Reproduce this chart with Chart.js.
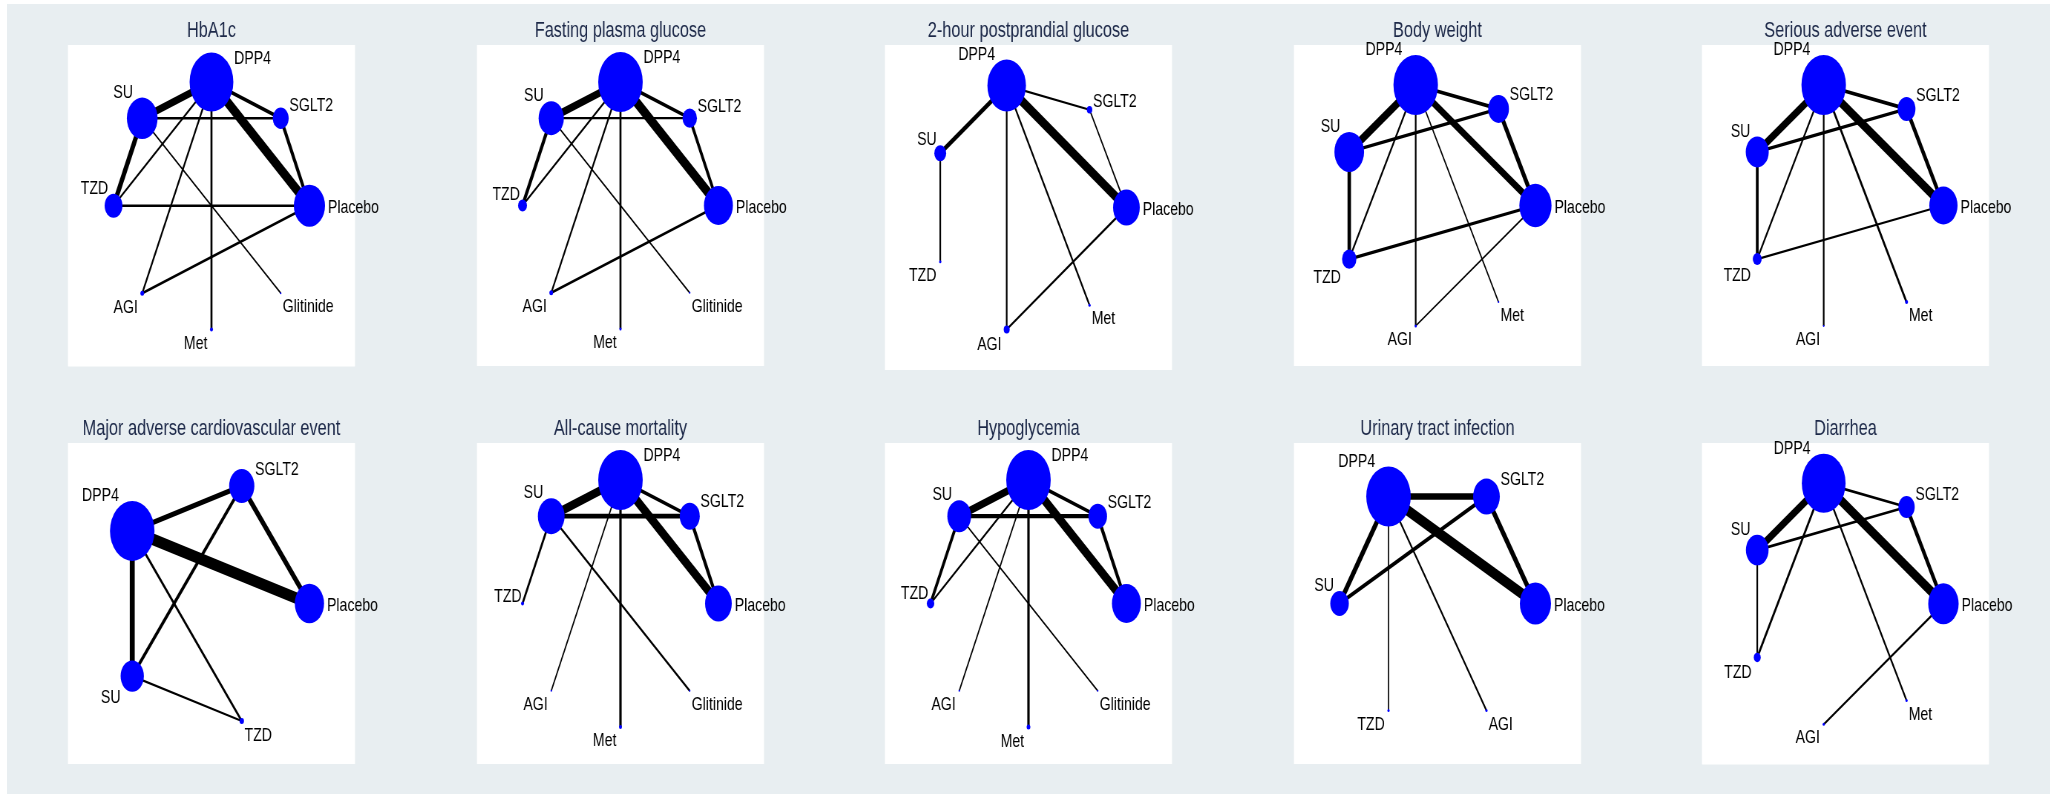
<!DOCTYPE html>
<html>
<head>
<meta charset="utf-8">
<script src="https://cdn.jsdelivr.net/npm/chart.js@4.4.1/dist/chart.umd.min.js"></script>
<style>
  html, body { margin: 0; padding: 0; background: #ffffff; }
  #page { position: relative; width: 2058px; height: 794px; overflow: hidden; }
  #bg { position: absolute; left: 7px; top: 4px; width: 2043px; height: 790px; background: #e8eef1; }
  .panel { position: absolute; transform-origin: 0 0; }
</style>
</head>
<body>
<div id="page"><div id="bg"></div></div>
<script>
// Treatment network plots. Nodes are listed counter-clockwise starting at 3 o'clock;
// node size ~ patients, edge weight ~ direct comparisons.

const titles = [
  'HbA1c', 'Fasting plasma glucose', '2-hour postprandial glucose', 'Body weight', 'Serious adverse event',
  'Major adverse cardiovascular event', 'All-cause mortality', 'Hypoglycemia', 'Urinary tract infection', 'Diarrhea'
];

// HbA1c
const hba1cNodes = ['Placebo', 'SGLT2', 'DPP4', 'SU', 'TZD', 'AGI', 'Met', 'Glitinide'];
const hba1cSizes = [21, 10.7, 29.5, 20.7, 12, 2.5, 2, 1];
const hba1cEdges = [
  ['DPP4', 'Placebo', 9.5], ['DPP4', 'SU', 7], ['DPP4', 'SGLT2', 3], ['SGLT2', 'Placebo', 3.5],
  ['SU', 'SGLT2', 2], ['SU', 'TZD', 5], ['TZD', 'Placebo', 2], ['DPP4', 'TZD', 1.5],
  ['DPP4', 'AGI', 1.5], ['DPP4', 'Met', 2], ['AGI', 'Placebo', 2], ['SU', 'Glitinide', 1]
];

// Fasting plasma glucose
const fpgNodes = ['Placebo', 'SGLT2', 'DPP4', 'SU', 'TZD', 'AGI', 'Met', 'Glitinide'];
const fpgSizes = [19.5, 9.7, 30, 17, 6, 2.5, 1.5, 1];
const fpgEdges = [
  ['DPP4', 'Placebo', 9.5], ['DPP4', 'SU', 7], ['DPP4', 'SGLT2', 3], ['SGLT2', 'Placebo', 3],
  ['SU', 'SGLT2', 1.5], ['SU', 'TZD', 3.5], ['DPP4', 'TZD', 1.5], ['DPP4', 'AGI', 1.5],
  ['DPP4', 'Met', 2], ['AGI', 'Placebo', 2], ['SU', 'Glitinide', 1]
];

// 2-hour postprandial glucose
const ppgNodes = ['Placebo', 'SGLT2', 'DPP4', 'SU', 'TZD', 'AGI', 'Met'];
const ppgSizes = [18, 3.7, 26, 8, 1.5, 4, 1.5];
const ppgEdges = [
  ['DPP4', 'Placebo', 9], ['DPP4', 'SU', 4], ['DPP4', 'SGLT2', 1.5], ['SGLT2', 'Placebo', 1],
  ['SU', 'TZD', 1.5], ['DPP4', 'AGI', 1.5], ['DPP4', 'Met', 1.5], ['AGI', 'Placebo', 1.5]
];

// Body weight
const bwNodes = ['Placebo', 'SGLT2', 'DPP4', 'SU', 'TZD', 'AGI', 'Met'];
const bwSizes = [21.7, 14, 30, 20, 9.7, 1.5, 1];
const bwEdges = [
  ['DPP4', 'Placebo', 6.5], ['DPP4', 'SU', 7.5], ['DPP4', 'SGLT2', 3], ['SGLT2', 'Placebo', 4.5],
  ['SU', 'SGLT2', 2.5], ['SU', 'TZD', 4], ['TZD', 'Placebo', 2.5], ['DPP4', 'TZD', 1.5],
  ['DPP4', 'AGI', 1.5], ['DPP4', 'Met', 1], ['AGI', 'Placebo', 1]
];

// Serious adverse event
const saeNodes = ['Placebo', 'SGLT2', 'DPP4', 'SU', 'TZD', 'AGI', 'Met'];
const saeSizes = [19, 12, 30, 15.5, 6, 1, 2];
const saeEdges = [
  ['DPP4', 'Placebo', 8.5], ['DPP4', 'SU', 7], ['DPP4', 'SGLT2', 3], ['SGLT2', 'Placebo', 4],
  ['SU', 'SGLT2', 2.5], ['SU', 'TZD', 3], ['TZD', 'Placebo', 1.5], ['DPP4', 'TZD', 1.5],
  ['DPP4', 'AGI', 1.5], ['DPP4', 'Met', 2]
];

// Major adverse cardiovascular event
const maceNodes = ['Placebo', 'SGLT2', 'DPP4', 'SU', 'TZD'];
const maceSizes = [19.7, 17, 30, 15.7, 3];
const maceEdges = [
  ['DPP4', 'Placebo', 11], ['DPP4', 'SGLT2', 4.5], ['SGLT2', 'Placebo', 5], ['DPP4', 'SU', 6],
  ['SU', 'SGLT2', 3], ['DPP4', 'TZD', 2], ['SU', 'TZD', 1.5]
];

// All-cause mortality
const acmNodes = ['Placebo', 'SGLT2', 'DPP4', 'SU', 'TZD', 'AGI', 'Met', 'Glitinide'];
const acmSizes = [18, 13.5, 30, 18, 2, 1, 2, 1];
const acmEdges = [
  ['DPP4', 'Placebo', 9], ['DPP4', 'SU', 8], ['DPP4', 'SGLT2', 3], ['SGLT2', 'Placebo', 3.5],
  ['SU', 'SGLT2', 4], ['SU', 'TZD', 2], ['DPP4', 'AGI', 1], ['DPP4', 'Met', 2.5],
  ['SU', 'Glitinide', 1.5]
];

// Hypoglycemia
const hypoNodes = ['Placebo', 'SGLT2', 'DPP4', 'SU', 'TZD', 'AGI', 'Met', 'Glitinide'];
const hypoSizes = [19.5, 12.5, 30, 16, 5, 1, 2.5, 1];
const hypoEdges = [
  ['DPP4', 'Placebo', 9], ['DPP4', 'SU', 7], ['DPP4', 'SGLT2', 3], ['SGLT2', 'Placebo', 3.5],
  ['SU', 'SGLT2', 3.5], ['SU', 'TZD', 3], ['DPP4', 'TZD', 1.5], ['DPP4', 'AGI', 1],
  ['DPP4', 'Met', 2.5], ['SU', 'Glitinide', 1]
];

// Urinary tract infection
const utiNodes = ['Placebo', 'SGLT2', 'DPP4', 'SU', 'TZD', 'AGI'];
const utiSizes = [21, 18, 30, 12.5, 1.5, 1.5];
const utiEdges = [
  ['DPP4', 'Placebo', 10], ['DPP4', 'SGLT2', 6], ['SGLT2', 'Placebo', 5], ['DPP4', 'SU', 5],
  ['SU', 'SGLT2', 3.5], ['DPP4', 'TZD', 1], ['DPP4', 'AGI', 1.5]
];

// Diarrhea
const diaNodes = ['Placebo', 'SGLT2', 'DPP4', 'SU', 'TZD', 'AGI', 'Met'];
const diaSizes = [20.5, 11, 29.5, 15.3, 4.7, 1.5, 1.5];
const diaEdges = [
  ['DPP4', 'Placebo', 9], ['DPP4', 'SU', 7], ['DPP4', 'SGLT2', 2], ['SGLT2', 'Placebo', 4],
  ['SU', 'SGLT2', 2], ['SU', 'TZD', 1.5], ['DPP4', 'TZD', 2], ['DPP4', 'Met', 1.5],
  ['AGI', 'Placebo', 1.5]
];

const panels = [
  [hba1cNodes, hba1cSizes, hba1cEdges],
  [fpgNodes, fpgSizes, fpgEdges],
  [ppgNodes, ppgSizes, ppgEdges],
  [bwNodes, bwSizes, bwEdges],
  [saeNodes, saeSizes, saeEdges],
  [maceNodes, maceSizes, maceEdges],
  [acmNodes, acmSizes, acmEdges],
  [hypoNodes, hypoSizes, hypoEdges],
  [utiNodes, utiSizes, utiEdges],
  [diaNodes, diaSizes, diaEdges]
];

// ---- layout / style ----
const SQUEEZE = 0.742;            // horizontal compression of each panel
const PLOT_W = 287, PLOT_H = 343; // white plot area (on page)
const RING = 132;                 // layout circle radius in px
const TITLE_H = 42, BOTTOM_PAD = 8, SIDE = 45;
const LINE_EXTRA = 0.7;           // keeps hairline edges visible after compression
const FONT = '"Liberation Sans", Arial, Helvetica, sans-serif';

const plotBackground = {
  id: 'plotBackground',
  beforeDatasetsDraw(chart) {
    const a = chart.chartArea, ctx = chart.ctx;
    ctx.save();
    ctx.fillStyle = '#ffffff';
    ctx.fillRect(a.left, a.top, a.right - a.left, a.bottom - a.top);
    ctx.restore();
  }
};

const nodeLabels = {
  id: 'nodeLabels',
  afterDatasetsDraw(chart) {
    const ctx = chart.ctx;
    chart.data.datasets.forEach((ds, i) => {
      if (!ds.nodeNames) return;
      const meta = chart.getDatasetMeta(i);
      ctx.save();
      ctx.font = '19px ' + FONT;
      ctx.fillStyle = '#000000';
      ctx.textBaseline = 'middle';
      meta.data.forEach((el, j) => {
        const r = ds.data[j].r;
        const deg = ds.angles[j];
        let x, y, align;
        if (deg === 0) { x = el.x + r + 4; y = el.y + 2; align = 'left'; }
        else if (deg <= 90) { x = el.x + r + 1; y = el.y - (0.6 * r + 6); align = 'left'; }
        else if (deg <= 180) { x = el.x - 0.6 * r; y = el.y - (r + 5); align = 'right'; }
        else if (deg <= 270) { x = el.x - (0.75 * r + 4); y = el.y + 0.55 * r + 13; align = 'right'; }
        else { x = el.x + 0.6 * r + 2; y = el.y + 0.55 * r + 13; align = 'left'; }
        ctx.textAlign = align;
        ctx.fillText(ds.nodeNames[j], x, y);
      });
      ctx.restore();
    });
  }
};

const page = document.getElementById('page');

panels.forEach(([nodes, sizes, edges], k) => {
  const row = Math.floor(k / 5), col = k % 5;
  const x0 = 68 + 408.5 * col;
  const y0 = 45 + 398 * row;

  const outerW = PLOT_W + 2 * SIDE;
  const canvasW = Math.round(outerW / SQUEEZE);
  const canvasH = TITLE_H + PLOT_H + BOTTOM_PAD;
  const sidePad = (canvasW - PLOT_W / SQUEEZE) / 2;

  const wrap = document.createElement('div');
  wrap.className = 'panel';
  wrap.style.left = (x0 - SIDE) + 'px';
  wrap.style.top = (y0 - TITLE_H) + 'px';
  wrap.style.width = canvasW + 'px';
  wrap.style.height = canvasH + 'px';
  wrap.style.transform = 'scaleX(' + SQUEEZE + ')';
  const canvas = document.createElement('canvas');
  canvas.width = canvasW;
  canvas.height = canvasH;
  wrap.appendChild(canvas);
  page.appendChild(wrap);

  const n = nodes.length;
  const angles = nodes.map((_, i) => 360 * i / n);
  const pos = angles.map(d => ({ x: Math.cos(d * Math.PI / 180), y: Math.sin(d * Math.PI / 180) }));

  const edgeSets = edges.map(([a, b, w]) => {
    const p = pos[nodes.indexOf(a)], q = pos[nodes.indexOf(b)];
    return {
      type: 'line',
      data: [{ x: p.x, y: p.y }, { x: q.x, y: q.y }],
      borderColor: '#000000',
      borderWidth: w + LINE_EXTRA,
      pointRadius: 0,
      fill: false,
      tension: 0,
      order: 1
    };
  });

  const nodeSet = {
    type: 'bubble',
    data: pos.map((p, i) => ({ x: p.x, y: p.y, r: sizes[i] })),
    backgroundColor: '#0000ff',
    borderWidth: 0,
    order: 0,
    nodeNames: nodes,
    angles: angles
  };

  const xr = (PLOT_W / SQUEEZE) / 2 / RING;
  const yr = PLOT_H / 2 / RING;

  new Chart(canvas, {
    type: 'scatter',
    data: { datasets: [nodeSet].concat(edgeSets) },
    options: {
      responsive: false,
      animation: false,
      events: [],
      devicePixelRatio: 1,
      layout: { padding: { left: sidePad, right: sidePad, top: 0, bottom: BOTTOM_PAD } },
      scales: {
        x: { type: 'linear', min: -xr, max: xr, display: false },
        y: { type: 'linear', min: -yr, max: yr, display: false }
      },
      plugins: {
        legend: { display: false },
        tooltip: { enabled: false },
        title: {
          display: true,
          text: titles[k],
          color: '#1c2848',
          font: { family: FONT, size: 22, weight: 'normal', lineHeight: 1.2 },
          padding: { top: 15, bottom: 0.6 }
        }
      }
    },
    plugins: [plotBackground, nodeLabels]
  });
});
</script>
</body>
</html>
